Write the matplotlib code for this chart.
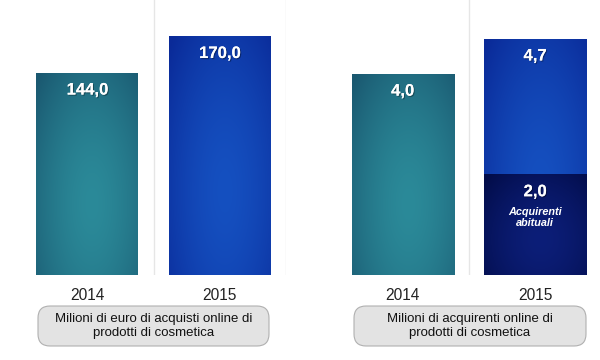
import numpy as np
import matplotlib
matplotlib.use("Agg")
import matplotlib.pyplot as plt
from matplotlib.patches import FancyBboxPatch
from matplotlib.colors import to_rgb
import matplotlib.patheffects as pe

plt.rcParams['font.family'] = ['Liberation Sans', 'DejaVu Sans']

# data
years = ['2014', '2015']
spesa = [144.0, 170.0]            # milioni di euro
acquirenti = [4.0, 4.7]           # milioni di acquirenti
abituali_2015 = 2.0               # di cui acquirenti abituali (2015)
titolo_sx = 'Milioni di euro di acquisti online di\nprodotti di cosmetica'
titolo_dx = 'Milioni di acquirenti online di\nprodotti di cosmetica'

teal = ('#2b8a99', '#1a5870')
blue = ('#1550c0', '#0a2a98')
navy = ('#0c1e78', '#020c48')

W, H = 600, 360
fig = plt.figure(figsize=(W / 100, H / 100), dpi=100)
fig.patch.set_facecolor('white')

base = (H - 275) / H
ax1 = fig.add_axes([0, base, 286 / W, 1 - base])
ax2 = fig.add_axes([286 / W, base, 314 / W, 1 - base])
ax1.set_xlim(-0.66, 1.5)
ax2.set_xlim(-0.88, 1.49)
ax1.set_ylim(0, 275 / 1.405)
ax2.set_ylim(0, 275 / 50.3)


def gradient_fill(ax, patch, colors):
    c_in = np.array(to_rgb(colors[0]))
    c_out = np.array(to_rgb(colors[1]))
    x0, y0 = patch.get_x(), patch.get_y()
    w, h = patch.get_width(), patch.get_height()
    yy, xx = np.mgrid[0:1:120j, 0:1:60j]
    r = np.sqrt(((xx - 0.55) / 0.75) ** 2 + ((yy - 0.35) / 0.9) ** 2)
    r = np.clip(r, 0, 1) ** 1.6
    img = c_in[None, None, :] * (1 - r[..., None]) + c_out[None, None, :] * r[..., None]
    im = ax.imshow(img, extent=(x0, x0 + w, y0, y0 + h), origin='lower',
                   aspect='auto', zorder=2, interpolation='bilinear')
    im.set_clip_path(patch)
    patch.set_facecolor('none')


shadow = [pe.withSimplePatchShadow(offset=(0.8, -0.8), shadow_rgbFace='black', alpha=0.35),
          pe.Normal()]

for ax in (ax1, ax2):
    ax.axvline(0.5, color='#e6e6e6', lw=1, zorder=0)
    for s in ax.spines.values():
        s.set_visible(False)
    ax.set_yticks([])
    ax.set_xticks([0, 1])
    ax.set_xticklabels(years, fontsize=11.2, color='#222222')
    ax.tick_params(axis='x', length=0, pad=9)
    ax.set_facecolor('none')
ax1.axvline(1.5, color='#e6e6e6', lw=1, zorder=0)

bars1 = ax1.bar([0, 1], spesa, width=0.77, zorder=2, linewidth=0)
for p, col in zip(bars1, (teal, blue)):
    gradient_fill(ax1, p, col)
for i, v in enumerate(spesa):
    ax1.annotate(f'{v:.1f}'.replace('.', ','), (i, v), xytext=(0, -12.5),
                 textcoords='offset points', ha='center', va='center',
                 color='white', fontsize=12, fontweight='bold', zorder=4,
                 path_effects=shadow)

bars2 = ax2.bar([0, 1], acquirenti, width=0.77, zorder=2, linewidth=0)
for p, col in zip(bars2, (teal, blue)):
    gradient_fill(ax2, p, col)
seg = ax2.bar([1], [abituali_2015], width=0.77, zorder=3, linewidth=0)[0]
gradient_fill(ax2, seg, navy)
for i, v in enumerate(acquirenti):
    ax2.annotate(f'{v:.1f}'.replace('.', ','), (i, v), xytext=(0, -12.5),
                 textcoords='offset points', ha='center', va='center',
                 color='white', fontsize=12, fontweight='bold', zorder=4,
                 path_effects=shadow)
ax2.annotate(f'{abituali_2015:.1f}'.replace('.', ','), (1, abituali_2015),
             xytext=(0, -12.5), textcoords='offset points', ha='center',
             va='center', color='white', fontsize=12, fontweight='bold',
             zorder=4, path_effects=shadow)
ax2.annotate('Acquirenti\nabituali', (1, abituali_2015), xytext=(0, -31),
             textcoords='offset points', ha='center', va='center',
             color='white', fontsize=7.8, fontweight='bold', fontstyle='italic',
             linespacing=1.1, zorder=4)

# caption boxes
for x0, x1, txt in ((38, 269, titolo_sx), (354, 586, titolo_dx)):
    box = FancyBboxPatch((x0 / W, (H - 346) / H), (x1 - x0) / W, 40 / H,
                         boxstyle='round,pad=0,rounding_size=0.02',
                         transform=fig.transFigure, facecolor='#e3e3e3',
                         edgecolor='#b0b0b0', lw=0.8,
                         mutation_aspect=W / H)
    fig.patches.append(box)
    fig.text((x0 + x1) / 2 / W, (H - 326) / H, txt, ha='center', va='center',
             fontsize=9.5, color='#111111', linespacing=1.15)

fig.savefig('out.png', dpi=100)
